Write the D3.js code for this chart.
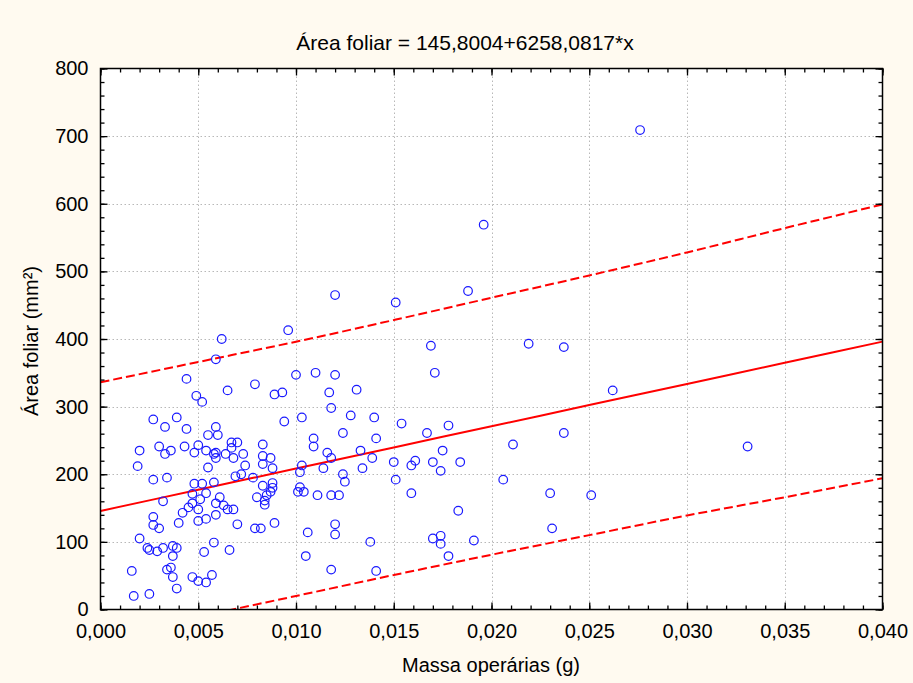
<!DOCTYPE html>
<html>
<head>
<meta charset="utf-8">
<script src="https://cdn.jsdelivr.net/npm/d3@7"></script>
<style>
  body { margin: 0; background: #fffaf0; }
  svg { display: block; font-family: "Liberation Sans", Arial, sans-serif; }
  .tick text { font-size: 20px; fill: #000; }
</style>
</head>
<body>
<svg width="913" height="683"></svg>
<script>
// Massa operárias (g) and Área foliar (mm²)
var massa = [
  0.0062,0.0059,0.0044,0.0065,0.0049,0.0052,0.0027,0.0039,0.0033,0.0044,
  0.0059,0.0055,0.0060,0.0020,0.0030,0.0033,0.0036,0.0043,0.0050,0.0048,
  0.0054,0.0058,0.0059,0.0059,0.0064,0.0019,0.0055,0.0027,0.0034,0.0048,
  0.0052,0.0058,0.0047,0.0054,0.0032,0.0061,0.0051,0.0047,0.0059,0.0063,
  0.0045,0.0050,0.0065,0.0042,0.0059,0.0027,0.0054,0.0050,0.0040,0.0027,
  0.0030,0.0020,0.0058,0.0024,0.0025,0.0029,0.0032,0.0037,0.0039,0.0037,
  0.0053,0.0066,0.0016,0.0034,0.0036,0.0037,0.0047,0.0050,0.0054,0.0057,
  0.0039,0.0017,0.0025,
  0.0096,0.0100,0.0110,0.0120,0.0079,0.0089,0.0093,0.0117,0.0131,0.0118,
  0.0094,0.0103,0.0128,0.0140,0.0124,0.0109,0.0109,0.0141,0.0067,0.0070,
  0.0067,0.0083,0.0068,0.0073,0.0083,0.0087,0.0116,0.0118,0.0133,0.0139,
  0.0074,0.0083,0.0088,0.0103,0.0114,0.0134,0.0069,0.0072,0.0078,0.0102,
  0.0124,0.0125,0.0083,0.0088,0.0088,0.0087,0.0085,0.0080,0.0084,0.0084,
  0.0102,0.0101,0.0104,0.0111,0.0118,0.0122,0.0068,0.0070,0.0079,0.0082,
  0.0089,0.0106,0.0120,0.0120,0.0138,0.0105,0.0118,0.0141,0.0120,
  0.0188,0.0151,0.0169,0.0219,0.0171,0.0154,0.0178,0.0167,0.0211,0.0175,
  0.0150,0.0159,0.0161,0.0170,0.0184,0.0174,0.0151,0.0206,0.0159,0.0183,
  0.0170,0.0174,0.0174,0.0191,0.0178,
  0.0237,0.0262,0.0237,0.0331,0.0230,0.0251,0.0231,0.0196,0.0276
];
var area = [
  400,370,341,324,316,307,281,284,270,267,
  270,258,258,235,241,230,235,241,243,232,
  235,230,232,224,230,212,210,192,195,186,
  186,188,171,172,160,166,163,157,157,154,
  151,148,148,143,140,137,134,131,128,125,
  120,105,99,91,88,86,91,94,91,79,
  85,88,57,59,62,48,48,42,40,51,
  31,20,23,
  413,347,350,347,333,318,321,321,325,298,
  278,284,287,284,261,253,241,253,247,247,
  239,244,224,230,227,224,232,224,235,224,
  213,215,209,213,209,209,197,200,195,203,
  200,189,183,187,180,174,169,166,161,155,
  181,174,174,169,169,169,148,126,120,120,
  128,114,126,111,100,79,59,57,465,
  471,454,390,393,350,275,272,261,244,235,
  218,213,220,218,218,205,192,192,172,146,
  105,109,97,102,79,
  388,324,261,241,172,169,120,569,709
];

// fitted line from the title: Área foliar = 145,8004 + 6258,0817*x
var intercept = 145.8004;
var slope = 6258.0817;

// 95% bands
var bandX = [0, 0.005, 0.010, 0.015, 0.020, 0.025, 0.030, 0.035, 0.040];
var upperBand = [336, 366, 396, 428, 461, 494, 528, 564, 599];
var lowerBand = [-44, -11, 20, 51, 81, 110, 139, 166, 194];

var xMajor = [0, 0.005, 0.010, 0.015, 0.020, 0.025, 0.030, 0.035, 0.040];
var xMinor = d3.range(0, 41).map(function(d) { return d / 1000; });
var yMajor = [0, 100, 200, 300, 400, 500, 600, 700, 800];
var yMinor = d3.range(0, 41).map(function(d) { return d * 20; });

var svg = d3.select("svg");

var x = d3.scaleLinear().domain([0, 0.04]).range([100.5, 882.5]);
var y = d3.scaleLinear().domain([0, 800]).range([609.5, 68.5]);

var fmtX = function(d) { return d3.format(".3f")(d).replace(".", ","); };

// plot area
svg.append("rect")
    .attr("x", x(0)).attr("y", y(800))
    .attr("width", x(0.04) - x(0)).attr("height", y(0) - y(800))
    .attr("fill", "#fff");

svg.append("clipPath").attr("id", "clip")
  .append("rect")
    .attr("x", x(0)).attr("y", y(800))
    .attr("width", x(0.04) - x(0)).attr("height", y(0) - y(800));

// grid
svg.append("g").selectAll("line")
    .data(xMajor.slice(1, -1))
  .enter().append("line")
    .attr("x1", function(d) { return Math.round(x(d)) + 0.5; })
    .attr("x2", function(d) { return Math.round(x(d)) + 0.5; })
    .attr("y1", y(800)).attr("y2", y(0))
    .attr("stroke", "#b8b8b8").attr("stroke-dasharray", "1.5,2.5");
svg.append("g").selectAll("line")
    .data(yMajor.slice(1, -1))
  .enter().append("line")
    .attr("y1", function(d) { return Math.round(y(d)) + 0.5; })
    .attr("y2", function(d) { return Math.round(y(d)) + 0.5; })
    .attr("x1", x(0)).attr("x2", x(0.04))
    .attr("stroke", "#b8b8b8").attr("stroke-dasharray", "1.5,2.5");

// lines
var plot = svg.append("g").attr("clip-path", "url(#clip)");

var bandLine = d3.line()
    .x(function(d) { return x(d[0]); })
    .y(function(d) { return y(d[1]); })
    .curve(d3.curveMonotoneX);

plot.append("path")
    .datum(bandX.map(function(d) { return [d, intercept + slope * d]; }))
    .attr("d", bandLine)
    .attr("fill", "none").attr("stroke", "#ff0000").attr("stroke-width", 2);

plot.append("path")
    .datum(bandX.map(function(d, i) { return [d, upperBand[i]]; }))
    .attr("d", bandLine)
    .attr("fill", "none").attr("stroke", "#ff0000").attr("stroke-width", 2)
    .attr("stroke-dasharray", "9,4");

plot.append("path")
    .datum(bandX.map(function(d, i) { return [d, lowerBand[i]]; }))
    .attr("d", bandLine)
    .attr("fill", "none").attr("stroke", "#ff0000").attr("stroke-width", 2)
    .attr("stroke-dasharray", "9,4");

// points
plot.selectAll(".dot")
    .data(massa)
  .enter().append("circle")
    .attr("class", "dot")
    .attr("cx", function(d) { return x(d); })
    .attr("cy", function(d, i) { return y(area[i]); })
    .attr("r", 4.3)
    .attr("fill", "none")
    .attr("stroke", "#1a1aff")
    .attr("stroke-width", 1.2);

// axes, ticks pointing inward
function clean(g) {
  g.select(".domain").remove();
  g.selectAll(".tick line").attr("stroke", "#000").attr("stroke-width", 1.3);
}

svg.append("g").attr("transform", "translate(0," + y(0) + ")")
    .call(d3.axisBottom(x).tickValues(xMinor).tickSize(-4).tickFormat(""))
    .call(clean);
svg.append("g").attr("transform", "translate(0," + y(0) + ")")
    .call(d3.axisBottom(x).tickValues(xMajor).tickSize(-7).tickPadding(14).tickFormat(fmtX))
    .call(clean);
svg.append("g").attr("transform", "translate(0," + y(800) + ")")
    .call(d3.axisTop(x).tickValues(xMinor).tickSize(-4).tickFormat(""))
    .call(clean);
svg.append("g").attr("transform", "translate(0," + y(800) + ")")
    .call(d3.axisTop(x).tickValues(xMajor).tickSize(-7).tickFormat(""))
    .call(clean);

svg.append("g").attr("transform", "translate(" + x(0) + ",0)")
    .call(d3.axisLeft(y).tickValues(yMinor).tickSize(-4).tickFormat(""))
    .call(clean);
svg.append("g").attr("transform", "translate(" + x(0) + ",0)")
    .call(d3.axisLeft(y).tickValues(yMajor).tickSize(-7).tickPadding(12))
    .call(clean);
svg.append("g").attr("transform", "translate(" + x(0.04) + ",0)")
    .call(d3.axisRight(y).tickValues(yMinor).tickSize(-4).tickFormat(""))
    .call(clean);
svg.append("g").attr("transform", "translate(" + x(0.04) + ",0)")
    .call(d3.axisRight(y).tickValues(yMajor).tickSize(-7).tickFormat(""))
    .call(clean);

// frame
svg.append("rect")
    .attr("x", x(0)).attr("y", y(800))
    .attr("width", x(0.04) - x(0)).attr("height", y(0) - y(800))
    .attr("fill", "none").attr("stroke", "#000").attr("stroke-width", 1.5);

// titles
svg.append("text")
    .attr("x", 465).attr("y", 50)
    .attr("text-anchor", "middle").attr("font-size", 21)
    .text("Área foliar = 145,8004+6258,0817*x");

svg.append("text")
    .attr("x", 491).attr("y", 672)
    .attr("text-anchor", "middle").attr("font-size", 20)
    .text("Massa operárias (g)");

svg.append("text")
    .attr("transform", "translate(38,341) rotate(-90)")
    .attr("text-anchor", "middle").attr("font-size", 20)
    .text("Área foliar (mm²)");
</script>
</body>
</html>
